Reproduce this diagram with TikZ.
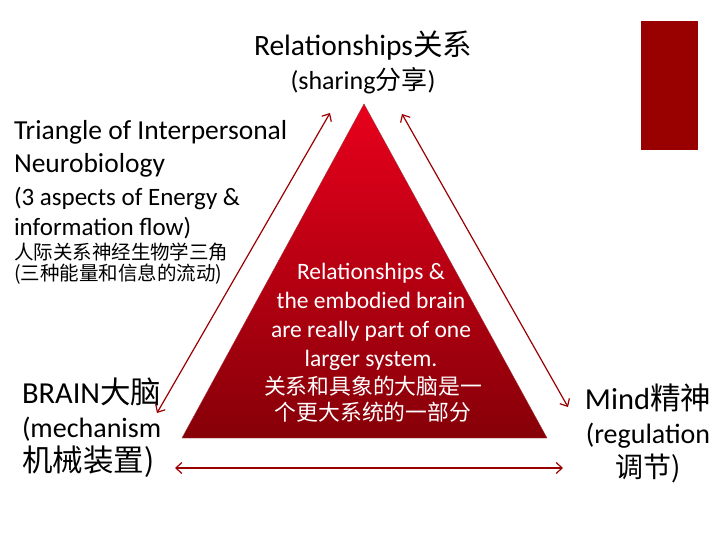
\documentclass[tikz,border=0pt]{standalone}
\usepackage{fontspec}
\setmainfont{Carlito}
\newfontfamily\cjk{Noto Sans CJK SC}
\usetikzlibrary{arrows.meta,positioning}

\definecolor{pyrtop}{RGB}{232,0,28}
\definecolor{pyrbot}{RGB}{134,0,8}
\definecolor{linkred}{RGB}{155,0,0}
\definecolor{tabred}{RGB}{153,0,0}

\begin{document}
\begin{tikzpicture}[x=1pt,y=-1pt,<->,>={Straight Barb[length=6pt,width=11pt]},semithick]

  \tikzstyle{every node}=[inner sep=0pt,outer sep=0pt]
  \tikzstyle{vertex}=[align=center,font={\fontsize{28}{34}\selectfont}]
  \tikzstyle{note}=[align=left,anchor=west]
  \tikzstyle{inner}=[align=center,text=white]
  \tikzstyle{link}=[draw=linkred,line width=1.2pt]

  \useasboundingbox (0,0) rectangle (720,540);

  % corner tab
  \fill[tabred] (641,21) rectangle (698,150);

  % the triangle
  \coordinate (apex) at (364,104);
  \coordinate (left) at (182,438);
  \coordinate (right) at (547,438);
  \shade[top color=pyrtop,bottom color=pyrbot,draw=pyrbot!80,line width=0.4pt]
    (apex) -- (left) -- (right) -- cycle;

  \node[inner,font={\fontsize{23.5}{29}\selectfont}] (core) at (371,317)
    {Relationships \&\\the embodied brain\\are really part of one\\larger system.};
  \node[inner,font={\cjk\fontsize{21.8}{26.5}\selectfont}] (corezh) at (373,399)
    {关系和具象的大脑是一\\个更大系统的一部分};

  % corners
  \node[vertex] (rel) at (363,62)
    {{\fontsize{29.5}{34}\selectfont Relationships{\cjk 关系}}\\{\fontsize{26}{34}\selectfont (sharing{\cjk 分享})}};
  \node[vertex,anchor=west,align=left] (brain) at (22,428)
    {{\fontsize{30.5}{34}\selectfont BRAIN{\cjk 大脑}}\\(mechanism\\{\cjk\fontsize{30.5}{34}\selectfont 机械装置)}};
  \node[vertex] (mind) at (648,433)
    {{\fontsize{30.5}{34}\selectfont Mind{\cjk 精神}}\\(regulation\\{\cjk 调节)}};

  % title
  \node[note,font={\fontsize{27.5}{33}\selectfont}] (title) at (14,149)
    {Triangle of Interpersonal\\Neurobiology};
  \node[note,font={\fontsize{25}{30}\selectfont}] (aspects) at (14,213)
    {(3 aspects of Energy \&\\information flow)};
  \node[note,font={\cjk\fontsize{19.5}{21}\selectfont}] (titlezh) at (14,264)
    {人际关系神经生物学三角\\(三种能量和信息的流动)};

  % arrow ends
  \coordinate (rl) at (330,113);
  \coordinate (lr) at (157,413);
  \coordinate (rr) at (402,114);
  \coordinate (mr) at (568,407);
  \coordinate (bm) at (175,468);
  \coordinate (mb) at (563,468);

  \path
  (rl) edge [link] (lr)
  (rr) edge [link] (mr)
  (bm) edge [link] (mb)
  ;
\end{tikzpicture}
\end{document}
